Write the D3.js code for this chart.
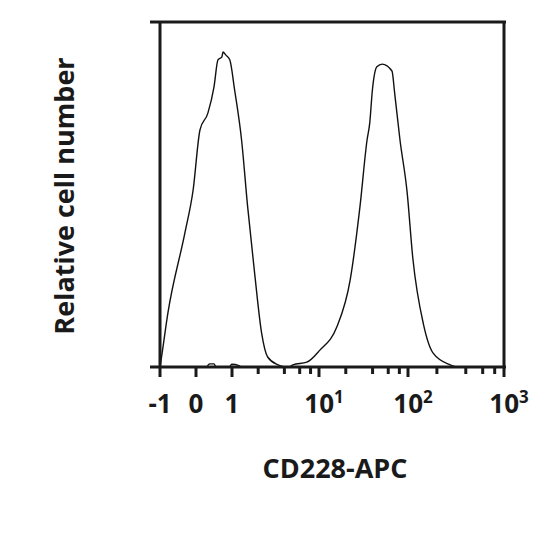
<!DOCTYPE html>
<html><head><meta charset="utf-8">
<script src="https://d3js.org/d3.v7.min.js"></script>
<style>body{margin:0;background:#fff}</style></head>
<body><svg id="c" width="540" height="540"></svg>
<script>
// axis position (-1,0,1 linear; 2,3,4 = log decades 10,100,1000)
const negPeak = [[-1,0],[-0.97,2],[-0.78,15.7],[-0.31,38.8],[-0.08,51.3],[0.11,68.7],[0.33,73.6],[0.5,81.2],[0.61,89],[0.72,89.9],[0.75,91.3],[0.83,90.4],[0.94,89],[1.03,80.3],[1.11,65.8],[1.18,46.4],[1.26,27.2],[1.34,9.9],[1.41,2.9],[1.53,0.6],[1.6,0]];
const posPeak = [[1.66,0],[1.70,0.6],[1.86,1.4],[2.01,4.9],[2.20,11.6],[2.35,25.2],[2.46,46.4],[2.54,65.8],[2.57,70.7],[2.60,80.3],[2.65,87],[2.71,87.8],[2.82,85.8],[2.85,79.4],[2.91,65.8],[2.99,50.7],[3.05,31.6],[3.16,12.5],[3.26,4.1],[3.44,0.6],[3.5,0]];
const debris = [[0.3,0],[0.38,0.9],[0.5,0.9],[0.56,0],[0.93,0],[0.99,0.8],[1.08,0.4],[1.1,0]];
const majorTicks = [-1,0,1,2,3,4];
const minorTicks = [1.301,1.602,1.778,1.903,2.301,2.602,2.778,2.903,3.301,3.602,3.778,3.903];
const tickLabels = [["-1",""],["0",""],["1",""],["10","1"],["10","2"],["10","3"]];

const svg = d3.select("#c");
const x = d3.scaleLinear().domain([-1,0,1,2,3,4]).range([160,196,232,319,408,504]);
const y = d3.scaleLinear().domain([0,100]).range([367,22]);
const line = d3.line().x(d=>x(d[0])).y(d=>y(d[1])).curve(d3.curveMonotoneX);
[negPeak,posPeak,debris].forEach(s=>svg.append("path").attr("d",line(s)).attr("fill","none").attr("stroke","#111").attr("stroke-width",1.4));

const g=svg.append("g").attr("stroke","#1a1a1a").attr("stroke-width",3).attr("fill","none");
g.append("line").attr("x1",150).attr("x2",506).attr("y1",y(100)).attr("y2",y(100));
g.append("line").attr("x1",x(-1)).attr("x2",x(-1)).attr("y1",y(100)).attr("y2",y(0));
g.append("line").attr("x1",x(4)).attr("x2",x(4)).attr("y1",y(100)).attr("y2",y(0));
g.append("line").attr("x1",150).attr("x2",506).attr("y1",y(0)).attr("y2",y(0));
majorTicks.forEach(t=>g.append("line").attr("x1",x(t)).attr("x2",x(t)).attr("y1",y(0)).attr("y2",y(0)+10));
minorTicks.forEach(t=>g.append("line").attr("x1",x(t)).attr("x2",x(t)).attr("y1",y(0)).attr("y2",y(0)+7));

const font="'Open Sans', sans-serif";
majorTicks.forEach((t,i)=>{
  const tx=svg.append("text").attr("x",x(t)+(tickLabels[i][1]?5:0)).attr("y",413).attr("text-anchor","middle")
    .attr("font-family",font).attr("font-weight",700).attr("font-size",26).attr("fill","#1a1a1a").text(tickLabels[i][0]);
  if(tickLabels[i][1]) tx.append("tspan").attr("dy",-10).attr("font-size",17).text(tickLabels[i][1]);
});
svg.append("text").attr("x",335).attr("y",478).attr("text-anchor","middle").attr("font-family",font)
  .attr("font-weight",700).attr("font-size",27).attr("fill","#1a1a1a").text("CD228-APC");
svg.append("text").attr("transform","translate(74,196) rotate(-90)").attr("text-anchor","middle").attr("font-family",font)
  .attr("font-weight",700).attr("font-size",27).attr("fill","#1a1a1a").text("Relative cell number");
</script></body></html>
